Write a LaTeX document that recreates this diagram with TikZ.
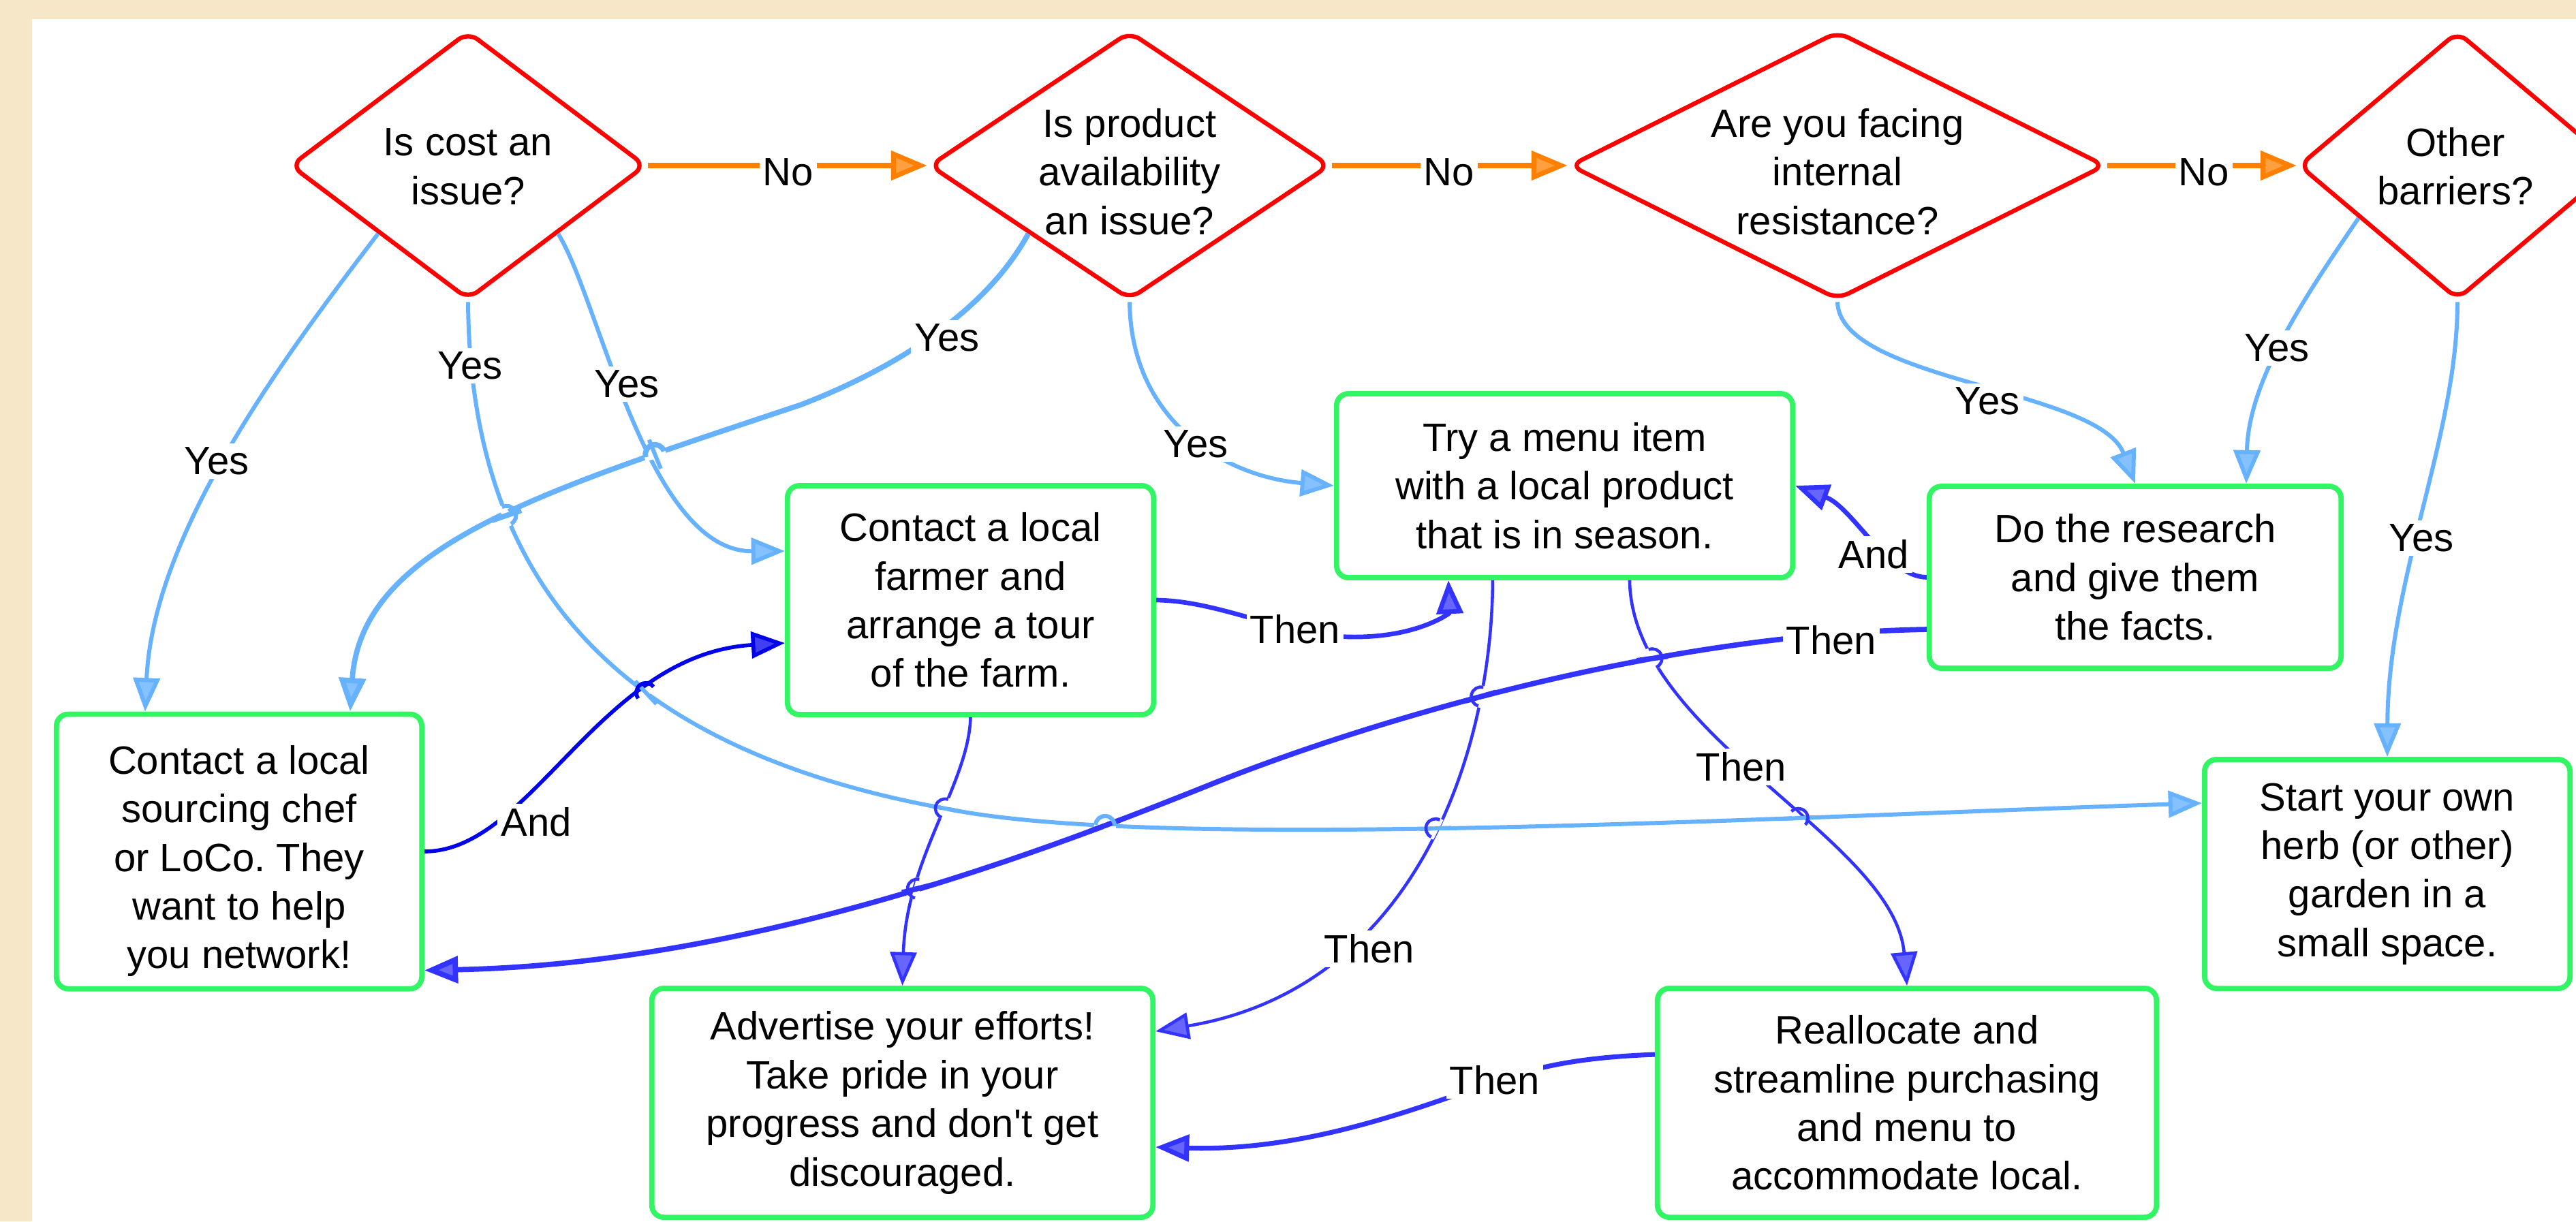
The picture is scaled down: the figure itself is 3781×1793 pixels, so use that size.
\documentclass[tikz,border=0pt]{standalone}
\usepackage{fontspec}
\setmainfont{Liberation Sans}
\usetikzlibrary{arrows.meta,shapes.geometric,calc,intersections}
\definecolor{bgc}{RGB}{246,231,201}
\definecolor{dred}{RGB}{255,0,0}
\definecolor{dgreen}{RGB}{50,245,100}
\definecolor{dorange}{RGB}{255,128,0}
\definecolor{lblue}{RGB}{102,178,255}
\definecolor{dblue}{RGB}{51,51,255}
\definecolor{pblue}{RGB}{0,0,235}
% #1 point, #2 angle of hopping line, #3 its colour, #4 its width, #5 white width,
% #6 angle of crossed line, #7 its colour, #8 its width
\newcommand{\hopat}[8]{%
  \begin{scope}[shift={(#1)}]
    \draw[white, line width=#5, rotate=#2] (-4.6pt,0) -- (4.6pt,0);
    \draw[#7, line width=#8, rotate=#6] (-6.5pt,0) -- (6.5pt,0);
    \draw[#3, line width=#4, rotate=#2] (-4pt,0) arc[start angle=180, end angle=0, radius=4pt];
  \end{scope}}
\begin{document}
\begin{tikzpicture}[x=0.01cm,y=-0.01cm,
  every node/.style={font=\fontsize{16.5}{20.3}\selectfont, align=center},
  dec/.style={diamond, draw=dred, line width=1.8pt, rounded corners=5pt, fill=white, inner sep=0pt},
  box/.style={rectangle, draw=dgreen, line width=2.2pt, rounded corners=5pt, fill=white, inner sep=0pt},
  lab/.style={fill=white, inner sep=1.5pt},
  noedge/.style={draw=dorange, line width=2pt, -{Triangle[length=15pt,width=12pt,fill=dorange!75]}},
  yesedge/.style={draw=lblue, line width=1.7pt, -{Triangle[length=14pt,width=11pt,fill=lblue!80]}},
  thenedge/.style={draw=dblue, line width=1.6pt, -{Triangle[length=14pt,width=11pt,fill=dblue!75]}},
  andedge/.style={draw=pblue, line width=1.6pt, -{Triangle[length=14pt,width=11pt,fill=pblue!75]}},
]
\useasboundingbox (0,0) rectangle (3781,1793);
\clip (0,0) rectangle (3781,1793);
\fill[bgc] (0,0) rectangle (3781,1793);
\fill[white] (47,28) rectangle (3781,1793);

% decisions
\node[dec, minimum width=5.22cm, minimum height=3.94cm] (d1) at (687,243) {};
\node[dec, minimum width=5.88cm, minimum height=3.94cm] (d2) at (1658,243) {};
\node[dec, minimum width=7.86cm, minimum height=3.94cm] (d3) at (2697,243) {};
\node[dec, minimum width=4.66cm, minimum height=3.94cm] (d4) at (3607,243) {};
\node (t1) at (687,245) {Is cost an\\issue?};
\node (t2) at (1658,252) {Is product\\availability\\an issue?};
\node (t3) at (2697,252) {Are you facing\\internal\\resistance?};
\node (t4) at (3604,244) {Other\\barriers?};

% actions
\node[box, minimum width=5.36cm, minimum height=4.03cm] (b1) at (351,1250) {};
\node (tb1) at (351,1264) {Contact a local\\sourcing chef\\or LoCo.\ They\\want to help\\you network!};
\node[box, minimum width=5.37cm, minimum height=3.36cm] (b2) at (1424.5,881) {Contact a local\\farmer and\\arrange a tour\\of the farm.};
\node[box, minimum width=6.69cm, minimum height=2.70cm] (b3) at (2296.5,713) {Try a menu item\\with a local product\\that is in season.};
\node[box, minimum width=6.04cm, minimum height=2.67cm] (b4) at (3134,847.5) {Do the research\\and give them\\the facts.};
\node[box, minimum width=5.36cm, minimum height=3.36cm] (b5) at (3504,1283) {Start your own\\herb (or other)\\garden in a\\small space.};
\node[box, minimum width=7.35cm, minimum height=3.36cm] (b6) at (1324.5,1619) {Advertise your efforts!\\Take pride in your\\progress and don\textquotesingle t get\\discouraged.};
\node[box, minimum width=7.32cm, minimum height=3.36cm] (b7) at (2799,1619) {Reallocate and\\streamline purchasing\\and menu to\\accommodate local.};

% No edges
\draw[noedge] (d1.east) -- (d2.west);
\draw[noedge] (d2.east) -- (d3.west);
\draw[noedge] (d3.east) -- (d4.west);

% Yes edges
\draw[yesedge] (d1.south west) .. controls (420,520) and (225,780) .. ($(b1.north west)+(134,0)$);
\draw[yesedge, name path=e5] (d1.south) .. controls (690,850) and (900,1100) .. (1393,1188) .. controls (1700,1250) and (2600,1200) .. ($(b5.north west)+(0,68)$);
\draw[yesedge, name path=e6] (d1.south east) .. controls (880,440) and (950,810) .. ($(b2.north west)+(0,100)$);
\draw[yesedge, line width=2.2pt, name path=e7] (d2.south west) .. controls (1440,470) and (1290,550) .. (1176,594) .. controls (800,720) and (530,800) .. ($(b1.north west)+(435,0)$);
\draw[yesedge] (d2.south) .. controls (1660,620) and (1800,700) .. (b3.west);
\draw[yesedge] (d3.south) .. controls (2700,560) and (3080,570) .. (b4.north);
\draw[yesedge] (d4.208) .. controls (3380,440) and (3300,560) .. ($(b4.north west)+(469,0)$);
\draw[yesedge] (d4.south) .. controls (3607,640) and (3505,850) .. (b5.north);

% Then / And edges
\draw[andedge, name path=e12] (b1.east) .. controls (780,1250) and (880,960) .. ($(b2.north west)+(0,235)$);
\draw[thenedge, line width=1.9pt] (b2.east) .. controls (1790,882) and (1880,932) .. (1980,935) .. controls (2080,937) and (2128,900) .. ($(b3.south west)+(168,0)$);
\draw[thenedge, line width=1.9pt] (b4.west) .. controls (2770,847) and (2720,745) .. (b3.east);
\draw[thenedge, line width=2.2pt, name path=e15] ($(b4.north west)+(0,214)$) .. controls (2450,930) and (2025,1052) .. (1776,1152) .. controls (1527,1252) and (1100,1415) .. ($(b1.south east)+(0,-31)$);
\draw[thenedge, line width=1.3pt, name path=e16] (b2.south) .. controls (1422,1150) and (1330,1260) .. (b6.north);
\draw[thenedge, line width=1.3pt, name path=e17] ($(b3.south west)+(233,0)$) .. controls (2190,1100) and (2080,1450) .. ($(b6.north east)+(0,67)$);
\draw[thenedge, line width=1.3pt, name path=e18] ($(b3.south west)+(434,0)$) .. controls (2395,1080) and (2780,1230) .. (b7.north);
\draw[thenedge, line width=2pt] ($(b7.north west)+(0,101)$) .. controls (2300,1553) and (2250,1570) .. (2193,1587) .. controls (2050,1640) and (1900,1690) .. ($(b6.north east)+(0,237)$);

% line jumps at crossings
\path[name intersections={of=e7 and e6, by=x1}];
\path[name intersections={of=e5 and e7, by=x2}];
\path[name intersections={of=e12 and e5, by=x3}];
\path[name intersections={of=e16 and e5, by=x4}];
\path[name intersections={of=e5 and e15, by=x5}];
\path[name intersections={of=e16 and e15, by=x6}];
\path[name intersections={of=e17 and e15, by=x7}];
\path[name intersections={of=e17 and e5, by=x8}];
\path[name intersections={of=e18 and e15, by=x9}];
\path[name intersections={of=e18 and e5, by=x10}];
\hopat{x1}{18}{lblue}{2.2pt}{3.6pt}{-68}{lblue}{1.7pt}
\hopat{x2}{-62}{lblue}{1.7pt}{3.1pt}{19}{lblue}{2.2pt}
\hopat{x3}{37}{pblue}{1.6pt}{3pt}{-47}{lblue}{1.7pt}
\hopat{x4}{70}{dblue}{1.3pt}{2.7pt}{-11}{lblue}{1.7pt}
\hopat{x5}{-5}{lblue}{1.7pt}{3.1pt}{20}{dblue}{2.2pt}
\hopat{x6}{77}{dblue}{1.3pt}{2.7pt}{14}{dblue}{2.2pt}
\hopat{x7}{75}{dblue}{1.3pt}{2.7pt}{16}{dblue}{2.2pt}
\hopat{x8}{63}{dblue}{1.3pt}{2.7pt}{2}{lblue}{1.7pt}
\hopat{x9}{-67}{dblue}{1.3pt}{2.7pt}{8}{dblue}{2.2pt}
\hopat{x10}{-44}{dblue}{1.3pt}{2.7pt}{2.5}{lblue}{1.7pt}

% labels
\node[lab] (n1) at (1157,253) {No};
\node[lab] (n2) at (2127,253) {No};
\node[lab] (n3) at (3235,253) {No};
\node[lab] (y1) at (318,677) {Yes};
\node[lab] (y2) at (690,537) {Yes};
\node[lab] (y3) at (920,564) {Yes};
\node[lab] (y4) at (1390,496) {Yes};
\node[lab] (y5) at (1755,652) {Yes};
\node[lab] (y6) at (2917,589) {Yes};
\node[lab] (y7) at (3342,511) {Yes};
\node[lab] (y8) at (3554,790) {Yes};
\node[lab] (a1) at (787,1207) {And};
\node[lab] (a2) at (2750,814) {And};
\node[lab] (h1) at (1901,924) {Then};
\node[lab] (h2) at (2688,940) {Then};
\node[lab] (h3) at (2010,1393) {Then};
\node[lab] (h4) at (2556,1126) {Then};
\node[lab] (h5) at (2194,1586) {Then};
\end{tikzpicture}
\end{document}
